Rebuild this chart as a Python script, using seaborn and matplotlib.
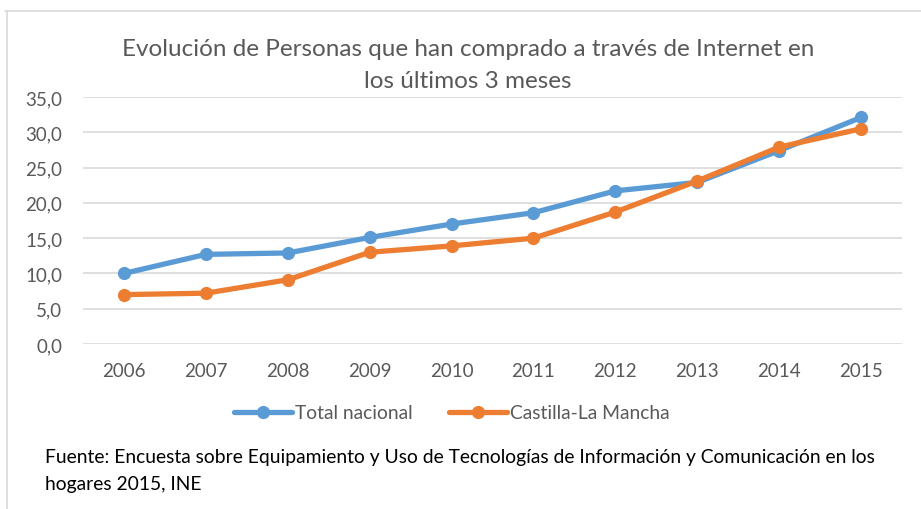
import matplotlib
matplotlib.use('Agg')
import matplotlib.pyplot as plt
import seaborn as sns
import pandas as pd
from matplotlib.lines import Line2D

years = [2006, 2007, 2008, 2009, 2010, 2011, 2012, 2013, 2014, 2015]
total_nacional = [10.0, 12.7, 12.9, 15.1, 17.0, 18.6, 21.7, 22.9, 27.4, 32.1]
castilla_la_mancha = [7.0, 7.2, 9.1, 13.0, 13.9, 15.0, 18.7, 23.1, 27.9, 30.5]
series_names = ['Total nacional', 'Castilla-La Mancha']
yticks = [0, 5, 10, 15, 20, 25, 30, 35]
ytick_labels = ['0,0', '5,0', '10,0', '15,0', '20,0', '25,0', '30,0', '35,0']

df = pd.DataFrame({
    'Año': years * 2,
    'Valor': total_nacional + castilla_la_mancha,
    'Serie': [series_names[0]] * len(years) + [series_names[1]] * len(years),
})

sns.set_style('white')
plt.rcParams['font.family'] = ['Lato', 'DejaVu Sans']

gray = '#595959'
blue, orange = '#5B9BD5', '#ED7D31'
fig = plt.figure(figsize=(9.21, 5.10), dpi=100)
ax = fig.add_axes([83 / 921, 1 - 345 / 510, 819 / 921, 247 / 510])

sns.lineplot(data=df, x='Año', y='Valor', hue='Serie', palette=[blue, orange],
             marker='o', markersize=9.5, markeredgewidth=0, linewidth=3.8, ax=ax, legend=False)

ax.set_xlim(2005.5, 2015.5)
ax.set_ylim(0, 35)
ax.set_xticks(years)
ax.set_xticklabels([str(y) for y in years])
ax.set_yticks(yticks)
ax.set_yticklabels(ytick_labels)
ax.tick_params(axis='both', length=0, labelsize=13.5, labelcolor=gray)
ax.tick_params(axis='y', pad=15)
ax.tick_params(axis='x', pad=13)
ax.set_xlabel('')
ax.set_ylabel('')
ax.yaxis.grid(True, color='#D9D9D9', linewidth=1.2)
ax.set_axisbelow(True)
for s in ax.spines.values():
    s.set_visible(False)

# title (two lines)
fig.text(468 / 921, 1 - 50 / 510, 'Evolución de Personas que han comprado a través de Internet en',
         ha='center', va='center', fontsize=17.5, color=gray)
fig.text(468 / 921, 1 - 82 / 510, 'los últimos 3 meses',
         ha='center', va='center', fontsize=17.5, color=gray)

# legend
handles = [Line2D([], [], color=blue, lw=3.8, marker='o', markersize=9.5, markeredgewidth=0),
           Line2D([], [], color=orange, lw=3.8, marker='o', markersize=9.5, markeredgewidth=0)]
leg = fig.legend(handles, series_names, loc='center', bbox_to_anchor=(452 / 921, 1 - 414 / 510),
                 ncol=2, frameon=False, fontsize=13.9, handlelength=3.0, handletextpad=0.15,
                 columnspacing=1.9)
for t in leg.get_texts():
    t.set_color(gray)

# source note
fig.text(45 / 921, 1 - 458 / 510,
         'Fuente: Encuesta sobre Equipamiento y Uso de Tecnologías de Información y Comunicación en los',
         ha='left', va='center', fontsize=13.9, color='black')
fig.text(45 / 921, 1 - 485 / 510, 'hogares 2015, INE',
         ha='left', va='center', fontsize=13.9, color='black')

# chart frame border (top and left visible)
fig.add_artist(Line2D([5 / 921, 1], [1 - 12 / 510, 1 - 12 / 510], color='#D9D9D9', lw=1.2))
fig.add_artist(Line2D([7 / 921, 7 / 921], [0, 1 - 12 / 510], color='#D9D9D9', lw=1.2))

fig.savefig('out.png', dpi=100)
